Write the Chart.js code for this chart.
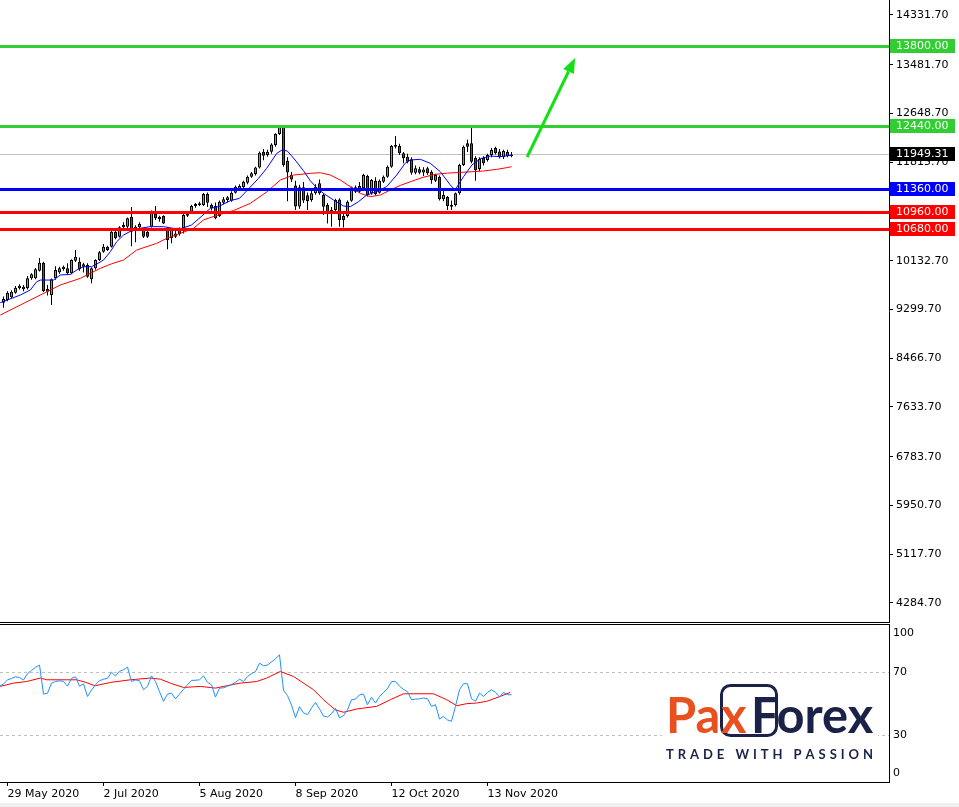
<!DOCTYPE html>
<html>
<head>
<meta charset="utf-8">
<title>US100 Daily</title>
<script src="https://cdn.jsdelivr.net/npm/chart.js@4/dist/chart.umd.min.js"></script>
<style>
  html, body { margin: 0; padding: 0; background: #fff; }
  #wrap { position: relative; width: 959px; height: 807px; overflow: hidden; }
  #main { position: absolute; left: 0; top: 0; }
  #rsi { position: absolute; left: 0; top: 624px; }
  #strip { position: absolute; left: 0; top: 803px; width: 959px; height: 4px; background: #f0f0f0; }
</style>
</head>
<body>
<div id="wrap">
  <canvas id="main" width="959" height="624"></canvas>
  <canvas id="rsi" width="959" height="183"></canvas>
  <div id="strip"></div>
</div>
<script>
// daily bars, index 0 = 28 May 2020, last = 23 Nov 2020
const open = [9416,9461,9507,9587,9661,9689,9661,9832,9832,9963,
  10100,9650,9547,9832,9934,9986,10003,9918,10134,10117,
  10031,10060,9815,10003,10145,10287,10373,10373,10629,10544,
  10703,10715,10885,10658,10703,10658,10630,10715,10942,10886,
  10897,10686,10515,10600,10657,10686,10902,10971,11068,11085,
  11085,11273,11085,11068,10897,11125,11170,11159,11296,11353,
  11387,11466,11569,11615,11728,11996,11939,11996,12110,12298,
  12423,11840,11600,11420,11060,11390,11250,11170,11284,11455,
  11256,11085,10999,10999,11180,10897,10897,11159,11313,11410,
  11370,11580,11284,11500,11296,11484,11569,11740,12116,12093,
  11968,11911,11865,11637,11694,11640,11711,11654,11500,11569,
  11182,11220,11085,11085,11284,11768,12139,12139,11890,11700,
  11888,11854,11940,12060,12000,11900,11990,11920];
const high = [9520,9610,9630,9700,9730,9720,9870,9920,10010,10180,
  10115,9720,9830,10040,10030,10050,10090,10160,10316,10190,
  10100,10090,10020,10160,10300,10420,10390,10650,10680,10720,
  10790,10870,11050,10740,10790,10690,10660,10990,11068,10900,
  10910,10710,10680,10640,10700,10930,10960,11090,11120,11140,
  11290,11300,11110,11130,11160,11220,11240,11320,11420,11440,
  11500,11590,11650,11740,12000,12040,12030,12140,12310,12440,
  12435,11900,11650,11500,11430,11480,11300,11350,11440,11520,
  11280,11120,11050,11190,11200,10950,11160,11400,11420,11480,
  11620,11600,11530,11560,11520,11590,11760,12110,12264,12130,
  11990,11960,11900,11760,11740,11730,11740,11680,11620,11590,
  11330,11240,11160,11300,11790,12100,12200,12423,11920,11900,
  11920,11960,12060,12080,12040,12030,12030,11990];
const low = [9330,9440,9490,9570,9640,9610,9640,9810,9815,9950,
  9600,9540,9375,9810,9910,9960,9900,9900,10110,9960,
  9930,9840,9746,9980,10130,10270,10300,10360,10500,10530,
  10640,10660,10380,10450,10680,10520,10520,10700,10830,10800,
  10760,10330,10430,10520,10560,10600,10880,10950,11040,11070,
  11070,11050,10990,10840,10880,11100,11130,11140,11280,11330,
  11340,11440,11550,11590,11710,11850,11910,11960,12080,12280,
  11740,11150,11480,11000,11020,11120,11000,11140,11260,11260,
  10915,10771,10715,10960,10715,10700,10870,11140,11290,11290,
  11340,11230,11260,11250,11280,11460,11550,11720,12050,11940,
  11800,11800,11600,11610,11610,11580,11600,11450,11480,11160,
  11150,10999,10999,11060,11260,11750,11990,11800,11500,11660,
  11760,11830,11900,11950,11880,11870,11900,11900];
const close = [9479,9587,9604,9672,9707,9644,9832,9900,9986,10100,
  9615,9604,9815,9974,10003,10031,9918,10145,10202,9992,
  10071,9860,10003,10145,10276,10373,10316,10629,10515,10703,
  10743,10857,10629,10715,10760,10544,10544,10971,10857,10840,
  10771,10487,10658,10544,10590,10914,10942,11068,11102,11113,
  11273,11125,11028,10857,11142,11182,11216,11296,11398,11410,
  11484,11569,11626,11728,11979,11928,11996,12121,12298,12423,
  11768,11640,11520,11060,11390,11160,11150,11284,11398,11284,
  11057,10942,10942,11170,10828,10828,11142,11387,11387,11313,
  11597,11256,11512,11273,11500,11569,11740,12093,12082,11968,
  11882,11826,11637,11711,11637,11690,11626,11512,11597,11182,
  11256,11068,11057,11284,11768,12082,12082,11825,11680,11870,
  11800,11940,12025,11970,11900,12010,11920,11949.31];

// moving averages: [bar, price]
const maFast = [[-0.8,9416],[4.2,9547],[6.7,9632],[8.3,9775],[9.3,9803],[12.5,9803],[14.2,9889],
  [16.7,9900],[18.3,9974],[20,10031],[22,10031],[23.3,10077],[25,10145],[26.7,10287],[28.3,10458],
  [30,10572],[32,10646],[34,10686],[36.7,10715],[40,10715],[42.5,10686],[44.6,10686],[47,10743],
  [49.6,10897],[51.7,11028],[53.75,11057],[56.7,11159],[59,11199],[61,11341],[63.75,11540],
  [65.8,11711],[68.3,11967],[69.7,12028],[71,12005],[72.9,11854],[75,11670],[76.7,11500],
  [78.3,11380],[80,11284],[82.5,11170],[85,11068],[86.7,11057],[88.75,11142],[90.8,11256],
  [93.3,11313],[95.8,11400],[98.3,11597],[100.4,11797],[101.7,11854],[104.2,11866],[106.7,11797],
  [109.2,11654],[111.7,11427],[112.9,11341],[115,11569],[117.1,11768],[119.2,11875],[121.7,11922],
  [124.2,11911],[127,11935]];
const maSlow = [[-0.8,9205],[4.2,9376],[9.2,9547],[11.7,9632],[14.2,9718],[19.2,9832],[21.7,9918],
  [24.2,10003],[27,10080],[30,10145],[33.3,10316],[38.3,10430],[40.8,10516],[44.2,10601],
  [47.5,10687],[50,10830],[53,10900],[57.5,10990],[61.7,11113],[65.9,11313],[69.2,11512],
  [72.5,11597],[76.7,11626],[79.2,11637],[81.7,11597],[84.2,11512],[86.7,11398],[89.2,11284],
  [91.7,11228],[94.2,11256],[96.7,11341],[99.2,11420],[102,11490],[105,11560],[108,11610],
  [111,11630],[115,11645],[120,11666],[123.3,11694],[125.8,11723],[127,11740]];

const dateTicks = [1, 25, 49, 73, 97, 121];
const dateLabels = ['29 May 2020', '2 Jul 2020', '5 Aug 2020', '8 Sep 2020', '12 Oct 2020', '13 Nov 2020'];
const priceTicks = [14331.70, 13481.70, 12648.70, 11815.70, 10132.70, 9299.70, 8466.70,
  7633.70, 6783.70, 5950.70, 5117.70, 4284.70];
const levels = [13800, 12440, 11360, 10960, 10680];
const lastPrice = 11949.31;
const arrowFrom = [130.9, 11905];
const arrowTo = [142.9, 13597];

// RSI panel, first value belongs to bar -1
const rsiStart = -1;
const rsi = [61,
  62.5,65,66,67,66.5,65,69,71,73,74.5,
  56,56.5,63,64,64.5,64,61,66,67,61,
  62.5,54.5,58.5,62,64.5,65.5,66,70,67.5,70.5,
  71.5,73.2,64,65,64.5,58.8,60.9,67.6,64,57.5,
  51.4,56,56.6,53,56,59,62,64.7,64.8,65.1,
  67.6,63.5,61.9,54.1,59.8,60,61,62,63.5,65.5,
  64,67.2,69,70.4,75.7,74,74.5,76.5,78.5,81,
  58.5,55,49,41,48,44,42.9,47.1,50.7,46.5,
  42,41.4,43.5,47,40.8,42.3,46,52.4,52.8,55.5,
  56,49.2,54,50.3,54.5,57,59.5,64,64,61,
  59,57.5,52.4,52.8,53,53.5,53,48.2,49.2,40.1,
  41.8,39.5,38.7,48.2,58.8,62.6,62.6,53,51.4,56.6,
  54.5,57,58.8,57.1,54.1,57.1,55.6,55.6];
const rsiSignal = [[-0.8,60.9],[2.5,63],[5.8,64],[9.2,66.2],[10.8,65.1],[15.8,65.1],[18.3,65.1],
  [20.4,63.6],[22.9,61.3],[26.7,63.4],[31.7,65.1],[36.7,66.2],[39.2,65.5],[42.1,62.6],[45,60.2],
  [49.2,60.9],[53,59.8],[55.8,61.3],[59.2,63],[63.3,64],[65.8,66.2],[69.2,70.4],[72.5,67.2],
  [75,63],[77.5,58.8],[80,52.4],[82.9,46],[85,44.4],[88.3,46.5],[93.3,48.2],[96.7,52.4],
  [100,56.2],[102.5,56.2],[107.5,56.2],[110.8,52.4],[113.3,48.6],[115.8,49.9],[118.3,50.3],
  [120.8,51.4],[124.2,54.5],[126.7,57.1]];
const rsiTicks = [100, 70, 30, 0];
const rsiLevels = [70, 30];

(function (window, document) {
  'use strict';

  let font = 'DejaVu Sans';
  let axisWidth = 70;
  let xMin = -0.875;
  let xMax = xMin + 889 / 4;
  let yMax = 14588.0;
  let yMin = 3959.9;
  let levelColors = ['#32cd32', '#32cd32', '#0000ff', '#ff0000', '#ff0000'];

  let bodies = [];
  let wicks = [];
  let bodyColors = [];
  for (let i = 0; i < close.length; i++) {
    bodies.push({x: i, y: [Math.min(open[i], close[i]), Math.max(open[i], close[i])]});
    wicks.push({x: i, y: [low[i], high[i]]});
    bodyColors.push(close[i] >= open[i] ? '#2ed82e' : '#e41c1c');
  }

  let pairs = function (list) {
    return list.map(function (p) { return {x: p[0], y: p[1]}; });
  };

  // chart.js adds half a label of padding around vertical axes, drop it
  let noPadding = function (axis) {
    axis.paddingTop = 0;
    axis.paddingBottom = 0;
    axis.paddingLeft = 0;
    axis.paddingRight = 0;
  };

  let tag = function (ctx, y, color, text) {
    y = Math.round(y);
    ctx.fillStyle = color;
    ctx.fillRect(890, y - 7, 65, 14);
    ctx.fillStyle = '#fff';
    ctx.font = '11px "' + font + '"';
    ctx.textBaseline = 'middle';
    ctx.textAlign = 'left';
    ctx.fillText(text, 896, y + 0.5);
  };

  let mainOverlay = {
    id: 'mainOverlay',
    beforeDatasetsDraw: function (chart) {
      let ctx = chart.ctx;
      let area = chart.chartArea;
      let y = Math.round(chart.scales.y.getPixelForValue(lastPrice)) + 0.5;
      ctx.save();
      ctx.strokeStyle = '#c0c0c0';
      ctx.lineWidth = 1;
      ctx.beginPath();
      ctx.moveTo(area.left, y);
      ctx.lineTo(area.right, y);
      ctx.stroke();
      ctx.restore();
    },
    afterDatasetsDraw: function (chart) {
      let ctx = chart.ctx;
      let area = chart.chartArea;
      let xs = chart.scales.x;
      let ys = chart.scales.y;
      ctx.save();
      levels.forEach(function (v, k) {
        let y = Math.round(ys.getPixelForValue(v));
        ctx.fillStyle = levelColors[k];
        ctx.fillRect(area.left, y - 1, area.right - area.left, 3);
      });

      // target arrow
      let x0 = xs.getPixelForValue(arrowFrom[0]);
      let y0 = ys.getPixelForValue(arrowFrom[1]);
      let x1 = xs.getPixelForValue(arrowTo[0]);
      let y1 = ys.getPixelForValue(arrowTo[1]);
      let a = Math.atan2(y1 - y0, x1 - x0);
      let bx = x1 - 15 * Math.cos(a);
      let by = y1 - 15 * Math.sin(a);
      ctx.strokeStyle = '#14e014';
      ctx.fillStyle = '#14e014';
      ctx.lineWidth = 3;
      ctx.beginPath();
      ctx.moveTo(x0, y0);
      ctx.lineTo(bx, by);
      ctx.stroke();
      ctx.beginPath();
      ctx.moveTo(x1, y1);
      ctx.lineTo(bx + 6 * Math.sin(a), by - 6 * Math.cos(a));
      ctx.lineTo(bx - 6 * Math.sin(a), by + 6 * Math.cos(a));
      ctx.closePath();
      ctx.fill();
      ctx.restore();
    },
    afterDraw: function (chart) {
      let ctx = chart.ctx;
      let area = chart.chartArea;
      let ys = chart.scales.y;
      ctx.save();
      ctx.fillStyle = '#000';
      ctx.fillRect(0, area.bottom, area.right + 1, 1);
      levels.forEach(function (v, k) {
        tag(ctx, ys.getPixelForValue(v), levelColors[k], v.toFixed(2));
      });
      tag(ctx, ys.getPixelForValue(lastPrice), '#000', lastPrice.toFixed(2));
      ctx.restore();
    }
  };

  let drawLogo = function (ctx) {
    let orange = '#e8501f';
    let navy = '#1b2247';
    ctx.save();
    ctx.fillStyle = '#fff';
    ctx.fillRect(662, 56, 216, 84);
    ctx.strokeStyle = navy;
    ctx.lineWidth = 3;
    ctx.beginPath();
    ctx.roundRect(721.5, 61.5, 55, 50, 9);
    ctx.stroke();

    ctx.textBaseline = 'alphabetic';
    ctx.textAlign = 'left';
    ctx.font = 'bold 50px Lato';
    let size = 50 * 122 / ctx.measureText('Forex').width;
    ctx.font = 'bold ' + size.toFixed(1) + 'px Lato';
    let pa = ctx.measureText('Pa').width;
    let squeeze = (747 - 666) / ctx.measureText('Pax').width;
    ctx.fillStyle = orange;
    ctx.fillText('Pa', 666, 109);
    ctx.fillText('x', 666 + pa * squeeze, 109);
    ctx.fillStyle = navy;
    ctx.fillText('Forex', 751, 109);

    ctx.font = 'bold 13px Lato';
    let chars = 'TRADE WITH PASSION'.split('');
    let widths = chars.map(function (c) { return ctx.measureText(c).width; });
    let total = widths.reduce(function (s, w) { return s + w; }, 0);
    let gap = (207 - total) / (chars.length - 1);
    let x = 666;
    chars.forEach(function (c, k) {
      ctx.fillText(c, x, 135);
      x += widths[k] + gap;
    });
    ctx.restore();
  };

  let rsiOverlay = {
    id: 'rsiOverlay',
    beforeDatasetsDraw: function (chart) {
      let ctx = chart.ctx;
      let area = chart.chartArea;
      let ys = chart.scales.y;
      ctx.save();
      ctx.strokeStyle = '#c0c0c0';
      ctx.lineWidth = 1;
      ctx.setLineDash([3, 3]);
      rsiLevels.forEach(function (v) {
        let y = Math.round(ys.getPixelForValue(v)) + 0.5;
        ctx.beginPath();
        ctx.moveTo(area.left, y);
        ctx.lineTo(area.right, y);
        ctx.stroke();
      });
      ctx.restore();
    },
    afterDraw: function (chart) {
      let ctx = chart.ctx;
      let area = chart.chartArea;
      let ys = chart.scales.y;
      ctx.save();
      ctx.fillStyle = '#000';
      ctx.fillRect(0, 0, area.right + 1, 1);
      ctx.font = '11px "' + font + '"';
      ctx.textBaseline = 'middle';
      ctx.textAlign = 'left';
      rsiTicks.forEach(function (v) {
        let y = ys.getPixelForValue(v);
        y = Math.min(Math.max(y, area.top + 8), area.bottom - 9);
        ctx.fillText(String(v), 893, y);
      });
      ctx.restore();
      drawLogo(ctx);
    }
  };

  let common = {
    responsive: false,
    animation: false,
    devicePixelRatio: 1,
    events: [],
    plugins: { legend: { display: false }, tooltip: { enabled: false } }
  };

  new Chart(document.getElementById('main'), {
    type: 'bar',
    data: {
      datasets: [
        { type: 'line', data: pairs(maFast), borderColor: '#0000ff', borderWidth: 1,
          pointRadius: 0, tension: 0, fill: false, order: 0 },
        { type: 'line', data: pairs(maSlow), borderColor: '#ff0000', borderWidth: 1,
          pointRadius: 0, tension: 0, fill: false, order: 0 },
        { data: bodies, backgroundColor: bodyColors, borderColor: '#000', borderWidth: 1,
          borderSkipped: false, barThickness: 3, inflateAmount: 0, grouped: false, order: 1 },
        { data: wicks, backgroundColor: '#000', borderWidth: 0,
          barThickness: 1, inflateAmount: 0, grouped: false, order: 2 }
      ]
    },
    options: Object.assign({}, common, {
      layout: { padding: { top: 0, left: 0, right: 0, bottom: 2 } },
      scales: {
        x: { type: 'linear', display: false, min: xMin, max: xMax, offset: false },
        y: {
          position: 'right', min: yMin, max: yMax,
          afterFit: function (axis) { axis.width = axisWidth; noPadding(axis); },
          afterBuildTicks: function (axis) {
            axis.ticks = priceTicks.map(function (v) { return {value: v}; });
          },
          ticks: {
            autoSkip: false, padding: 3, color: '#000',
            font: { family: font, size: 11 },
            callback: function (v) { return Number(v).toFixed(2); }
          },
          grid: { drawOnChartArea: false, drawTicks: true, tickLength: 4, color: '#000' },
          border: { display: true, color: '#000' }
        }
      }
    }),
    plugins: [mainOverlay]
  });

  new Chart(document.getElementById('rsi'), {
    type: 'line',
    data: {
      datasets: [
        { data: rsi.map(function (v, k) { return {x: rsiStart + k, y: v}; }),
          borderColor: '#1e90ff', borderWidth: 1, pointRadius: 0, tension: 0, fill: false },
        { data: pairs(rsiSignal), borderColor: '#ff0000', borderWidth: 1,
          pointRadius: 0, tension: 0, fill: false }
      ]
    },
    options: Object.assign({}, common, {
      layout: { padding: { top: 1, left: 0, right: 0, bottom: 0 } },
      scales: {
        x: {
          type: 'linear', position: 'bottom', min: xMin, max: xMax, offset: false,
          afterFit: function (axis) { axis.height = 25; noPadding(axis); },
          afterBuildTicks: function (axis) {
            axis.ticks = dateTicks.map(function (v) { return {value: v}; });
          },
          ticks: {
            autoSkip: false, maxRotation: 0, minRotation: 0, align: 'start', padding: 2,
            color: '#000', font: { family: font, size: 11 },
            callback: function (v) { return dateLabels[dateTicks.indexOf(v)]; }
          },
          grid: { drawOnChartArea: false, drawTicks: true, tickLength: 4, color: '#000' },
          border: { display: true, color: '#000' }
        },
        y: {
          position: 'right', min: 0, max: 100,
          afterFit: function (axis) { axis.width = axisWidth; noPadding(axis); },
          ticks: { display: false },
          grid: { drawOnChartArea: false, drawTicks: false },
          border: { display: true, color: '#000' }
        }
      }
    }),
    plugins: [rsiOverlay]
  });

})(window, document);
</script>
</body>
</html>
